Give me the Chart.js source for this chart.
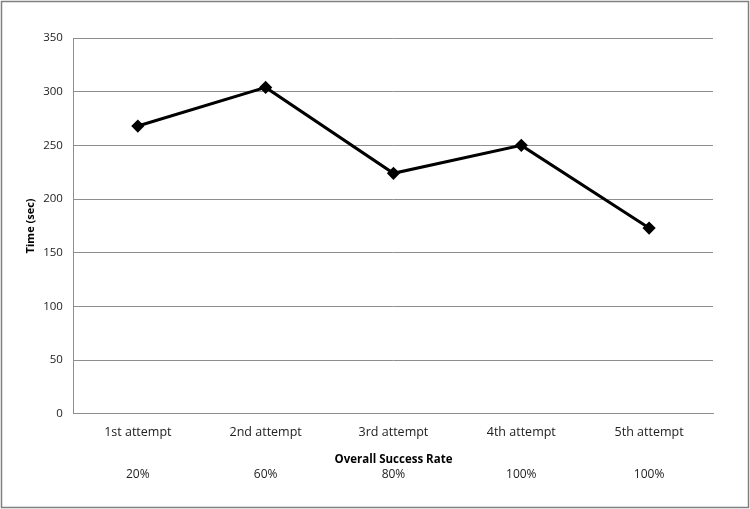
<!DOCTYPE html>
<html>
<head>
<meta charset="utf-8">
<script src="https://cdn.jsdelivr.net/npm/chart.js@4"></script>
<style>
  html, body { margin: 0; padding: 0; background: #fff; }
  #wrap { width: 750px; height: 509px; }
</style>
</head>
<body>
<div id="wrap"><canvas id="chart"></canvas></div>
<script>
var attempts = ['1st attempt', '2nd attempt', '3rd attempt', '4th attempt', '5th attempt'];
var times = [268, 304, 224, 250, 173];
var successRates = ['20%', '60%', '80%', '100%', '100%'];
var yTicks = [0, 50, 100, 150, 200, 250, 300, 350];

var fontFamily = "'Open Sans', sans-serif";
var gridColor = '#8e8e8e';

// outer frame like the spreadsheet chart border
var frame = {
  id: 'frame',
  beforeDraw: function(chart) {
    var ctx = chart.ctx;
    ctx.save();
    ctx.fillStyle = '#fff';
    ctx.fillRect(0, 0, chart.width, chart.height);
    ctx.strokeStyle = '#7f7f7f';
    ctx.lineWidth = 1.5;
    ctx.strokeRect(1.5, 1.5, chart.width - 3, chart.height - 3);
    ctx.restore();
  }
};

var ctx = document.getElementById('chart').getContext('2d');
new Chart(ctx, {
  type: 'line',
  data: {
    labels: attempts,
    datasets: [{
      data: times,
      borderColor: '#000',
      backgroundColor: '#000',
      borderWidth: 3,
      pointStyle: 'rectRot',
      pointRadius: 4.5,
      pointHoverRadius: 4.5,
      tension: 0,
      fill: false
    }]
  },
  options: {
    responsive: true,
    maintainAspectRatio: false,
    animation: false,
    layout: { padding: { top: 38, right: 37, left: 24, bottom: 26 } },
    plugins: {
      legend: { display: false },
      tooltip: { enabled: false }
    },
    scales: {
      y: {
        min: 0,
        max: 350,
        afterBuildTicks: function(axis) {
          axis.ticks = yTicks.map(function(v) { return { value: v }; });
        },
        grid: { color: gridColor, drawTicks: false },
        border: { color: gridColor },
        ticks: { color: '#222', padding: 11, font: { family: fontFamily, size: 11.5 } },
        title: {
          display: true,
          text: 'Time (sec)',
          color: '#000',
          padding: { top: 0, bottom: -5 },
          font: { family: fontFamily, size: 11, weight: 'bold' }
        }
      },
      x: {
        weight: 0,
        offset: true,
        grid: { display: false, drawTicks: false },
        border: { color: gridColor },
        ticks: { color: '#222', padding: 11, font: { family: fontFamily, size: 12.5 } },
        title: {
          display: true,
          text: 'Overall Success Rate',
          color: '#000',
          padding: { top: 2, bottom: 0 },
          font: { family: fontFamily, size: 11.5, weight: 'bold' }
        }
      },
      x2: {
        type: 'category',
        labels: successRates,
        position: 'bottom',
        weight: 1,
        offset: true,
        grid: { display: false, drawTicks: false },
        border: { display: false },
        ticks: { color: '#222', padding: 1, font: { family: fontFamily, size: 12 } }
      }
    }
  },
  plugins: [frame]
});
</script>
</body>
</html>
